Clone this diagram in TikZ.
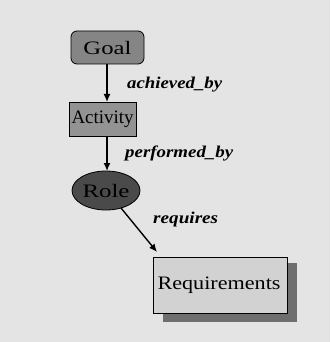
\documentclass[tikz,border=0pt]{standalone}
\usepackage{fontspec}
\setmainfont{Liberation Serif}
\usetikzlibrary{arrows.meta,shapes.geometric}
\definecolor{paper}{HTML}{E4E4E4}
\definecolor{goalgray}{HTML}{858585}
\definecolor{actgray}{HTML}{939393}
\definecolor{rolegray}{HTML}{4A4A4A}
\definecolor{reqgray}{HTML}{D2D2D2}
\definecolor{shadowgray}{HTML}{6E6E6E}
% stretch a text horizontally to a given width, keeping its height
\newcommand{\widetext}[2]{\resizebox{#1}{\height}{#2}}
\tikzset{
  boxtext/.style={font=\fontsize{19}{19}\selectfont, inner sep=0pt},
  reltext/.style={font=\fontsize{16.5}{16.5}\selectfont\bfseries\itshape, inner sep=0pt, anchor=west},
  link/.style={draw=black, line width=1.4pt, -{Latex[length=8pt,width=7pt]}},
  frame/.style={draw=black, line width=0.8pt}
}
\begin{document}
\begin{tikzpicture}[x=1pt,y=-1pt]
  \fill[paper] (0,0) rectangle (330,342);
  \useasboundingbox (0,0) rectangle (330,342);

  % Goal
  \draw[frame, fill=goalgray, rounded corners=6pt] (71,31) rectangle (144,64);
  \node[boxtext] (goal) at (107.5,48) {\widetext{48pt}{Goal}};
  \coordinate (goalS) at (107,64);

  % Activity
  \draw[frame, fill=actgray] (69,102) rectangle (136,136);
  \node[boxtext] (act) at (102.5,119.5) {\widetext{62pt}{Activity}};
  \coordinate (actN) at (107,102);
  \coordinate (actS) at (107,136);

  % Role
  \node[ellipse, frame, fill=rolegray, minimum width=68pt, minimum height=39pt, inner sep=0pt] (role) at (106,190.5) {};
  \node[boxtext, text=black] (roletxt) at (106,191) {\widetext{47pt}{Role}};
  \coordinate (roleN) at (107,171);
  \coordinate (roleSE) at (121,208);

  % Requirements with drop shadow
  \fill[shadowgray] (163,263) rectangle (297,322);
  \draw[frame, fill=reqgray] (153,257) rectangle (287,313);
  \node[boxtext] (req) at (219,285.5) {\widetext{123pt}{Requirements}};
  \coordinate (reqNW) at (157,252);

  % relations
  \draw[link] (goalS) -- (actN);
  \draw[link] (actS) -- (roleN);
  \draw[link] (roleSE) -- (reqNW);

  \node[reltext] (l1) at (127,85) {\widetext{95pt}{achieved\_by}};
  \node[reltext] (l2) at (125,153) {\widetext{108pt}{performed\_by}};
  \node[reltext] (l3) at (153,220) {\widetext{65pt}{requires}};
\end{tikzpicture}
\end{document}
